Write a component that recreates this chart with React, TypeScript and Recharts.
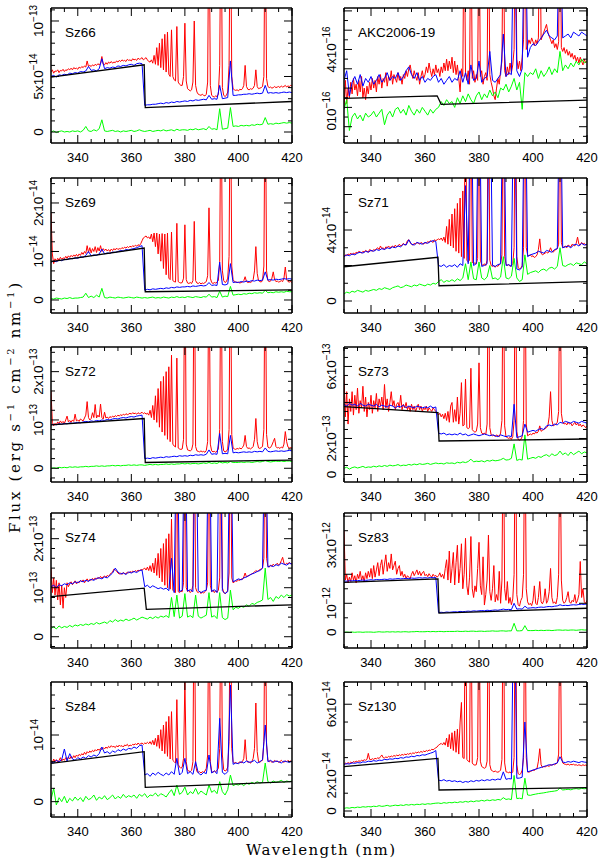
import React from 'react';
import { LineChart, Line, XAxis, YAxis } from 'recharts';

// wavelength sampling (nm)
const WL_FINE: number[] = Array.from({ length: 181 }, (_, i) => 330 + i * 0.5);
const WL_COARSE: number[] = Array.from({ length: 91 }, (_, i) => 330 + i);

const X_TICKS = [330, 335, 340, 345, 350, 355, 360, 365, 370, 375, 380, 385, 390, 395, 400, 405, 410, 415, 420];
const X_MAJOR = [340, 360, 380, 400, 420];
const ROW_TOPS = [8, 178, 347, 513, 682];

type YLabel = [number, string, string];
type Pt = [number, number];

// ---------------- Sz66 (1e-14) ----------------
const SZ66_RED = [
  5.4, 5.6, 5.3, 5.5, 5.45, 5.6, 5.35, 5.55, 5.5, 5.65,
  5.45, 5.6, 5.55, 5.7, 5.6, 5.75, 5.6, 5.8, 5.7, 5.75,
  5.65, 5.85, 5.75, 5.9, 5.8, 5.95, 5.85, 6.4, 5.9, 6.0,
  5.9, 6.05, 5.95, 6.1, 6.0, 6.15, 6.05, 6.2, 6.8, 6.1,
  6.05, 6.25, 6.1, 6.3, 6.2, 6.35, 6.2, 6.3, 6.25, 6.4,
  6.3, 6.45, 6.35, 6.5, 6.4, 6.45, 6.35, 6.55, 6.45, 6.5,
  6.4, 6.6, 6.5, 6.55, 6.45, 6.65, 6.55, 6.6, 6.7, 6.5,
  6.6, 6.7, 6.5, 6.35, 6.3, 6.5, 6.2, 6.9, 6.1, 7.6,
  6.0, 8.0, 5.8, 8.4, 5.6, 8.8, 5.4, 9.0, 5.2, 5.0,
  9.2, 5.0, 4.7, 4.6, 9.5, 4.5, 4.3, 4.2, 4.2, 5.0,
  9.8, 4.6, 3.9, 3.8, 3.7, 3.8, 4.5, 10.0, 4.2, 3.6,
  3.4, 3.35, 3.3, 3.4, 3.3, 3.25, 3.4, 4.5, 22, 4.2,
  3.3, 3.2, 3.15, 3.25, 3.2, 3.4, 6.0, 22, 4.0, 3.3,
  3.2, 3.3, 3.6, 6.0, 22, 5.0, 3.9, 3.8, 3.75, 3.8,
  3.7, 3.85, 3.8, 3.9, 4.2, 6.0, 4.1, 3.85, 3.8, 3.9,
  3.85, 3.95, 4.2, 5.6, 4.1, 3.9, 3.95, 4.0, 4.1, 5.0,
  22, 4.8, 4.1, 4.0, 4.05, 3.95, 4.0, 4.1, 4.0, 4.05,
  4.1, 4.0, 4.15, 4.05, 4.1, 4.2, 4.05, 4.15, 4.1, 4.2, 4.15,
];
const SZ66_BLUE = [
  5.0, 5.1, 4.95, 5.15, 5.1, 5.2, 5.15, 5.3, 5.25, 5.35,
  5.3, 5.45, 5.4, 5.5, 5.9, 5.55, 5.6, 5.5, 5.7, 6.6,
  5.7, 5.8, 5.75, 5.85, 5.8, 5.95, 5.9, 6.0, 5.95, 6.05,
  6.1, 6.0, 6.15, 6.2, 6.15, 2.4, 2.45, 2.45, 2.5, 2.5,
  2.55, 2.6, 2.55, 2.65, 2.6, 2.7, 2.65, 2.75, 2.7, 2.75,
  2.8, 2.75, 2.85, 2.8, 2.9, 2.85, 2.9, 2.95, 2.9, 3.3,
  2.95, 3.0, 2.95, 4.2, 3.0, 3.05, 3.1, 6.4, 3.3, 3.3,
  3.35, 3.35, 3.4, 3.4, 3.45, 3.4, 3.45, 3.5, 3.45, 3.5,
  4.2, 3.5, 3.55, 3.5, 3.55, 3.5, 3.55, 3.6, 3.55, 3.6, 3.55,
];
const SZ66_GREEN = [
  0.0, 0.1, -0.05, 0.05, 0.1, 0.0, 0.05, 0.0, 0.1, 0.05,
  0.1, 0.0, 0.15, 0.5, 0.1, 0.05, 0.2, 0.1, 0.3, 1.1,
  0.1, 0.05, 0.1, 0.15, 0.05, 0.1, 0.0, 0.1, 0.05, 0.1,
  0.15, 0.05, 0.1, 0.2, 0.1, 0.05, 0.1, 0.15, 0.05, 0.1,
  0.15, 0.1, 0.2, 0.1, 0.15, 0.2, 0.1, 0.25, 0.15, 0.2,
  0.2, 0.15, 0.25, 0.2, 0.3, 0.2, 0.25, 0.3, 0.2, 0.5,
  0.25, 0.3, 0.2, 2.1, 0.25, 0.3, 0.35, 2.2, 0.5, 0.55,
  0.5, 0.6, 0.55, 0.6, 0.55, 0.65, 0.6, 0.7, 0.65, 0.7,
  1.3, 0.7, 0.75, 0.7, 0.8, 0.75, 0.8, 0.85, 0.8, 0.85, 0.8,
];
const SZ66_BLACK: Pt[] = [[330, 4.95], [364.8, 6.05], [365.2, 2.2], [420, 2.75]];
const SZ66_Y_DOMAIN = [-0.99, 11.17];
const SZ66_Y_TICKS = [0, 1, 2, 3, 4, 5, 6, 7, 8, 9, 10, 11];
const SZ66_Y_MAJOR = [0, 5, 10];
const SZ66_Y_LABELS: YLabel[] = [[0, '0', ''], [5, '5x10', '−14'], [10, '10', '−13']];

// ---------------- AKC2006-19 (1e-16) ----------------
const AKC_RED = [
  1.0, 2.4, 1.2, 2.0, 1.5, 2.3, 1.7, 2.5, 1.9, 2.2,
  1.6, 2.4, 1.8, 2.6, 1.5, 2.0, 1.4, 2.1, 1.7, 2.3,
  1.9, 2.5, 2.0, 2.4, 1.8, 2.6, 2.2, 2.7, 2.0, 2.5,
  2.3, 2.8, 2.1, 2.6, 2.4, 2.9, 2.2, 2.7, 2.5, 2.3,
  2.8, 2.4, 2.6, 2.2, 2.7, 2.5, 2.9, 2.6, 3.0, 3.2,
  2.8, 2.5, 2.9, 2.6, 2.4, 2.8, 2.2, 2.6, 2.9, 2.5,
  2.7, 3.1, 2.8, 3.3, 2.9, 2.6, 3.0, 2.7, 3.2, 2.8,
  3.0, 2.6, 3.1, 2.8, 3.3, 2.9, 3.5, 2.9, 3.4, 3.0,
  3.6, 2.8, 3.4, 2.7, 3.2, 2.5, 1.8, 3.0, 2.6, 12,
  2.8, 2.4, 2.9, 2.2, 12, 2.5, 2.9, 2.3, 2.7, 2.4,
  12, 2.6, 2.9, 2.2, 2.6, 2.8, 2.4, 12, 2.7, 2.3,
  2.0, 1.6, 1.4, 2.0, 2.5, 2.2, 2.9, 3.4, 12, 2.9,
  2.6, 3.1, 2.7, 3.3, 2.8, 3.2, 4.0, 12, 3.5, 3.0,
  3.4, 2.9, 3.6, 4.5, 12, 4.0, 4.2, 4.5, 4.3, 4.6,
  4.4, 4.2, 4.5, 4.3, 4.6, 12, 4.5, 4.7, 4.9, 5.1,
  5.3, 4.9, 4.7, 4.5, 4.3, 4.5, 4.1, 4.3, 4.0, 4.4,
  12, 4.1, 3.9, 4.1, 3.8, 4.0, 3.7, 3.9, 3.6, 3.8,
  3.5, 3.7, 3.4, 3.6, 3.3, 3.6, 3.4, 3.2, 3.5, 3.3, 3.4,
];
const AKC_BLUE = [
  2.4, 2.9, 1.6, 2.3, 2.6, 2.2, 2.7, 2.1, 2.5, 2.3,
  2.6, 2.2, 2.4, 2.7, 2.3, 2.5, 2.8, 2.4, 2.6, 2.5,
  2.8, 2.4, 2.6, 2.9, 3.1, 2.7, 2.5, 2.8, 2.4, 2.6,
  2.3, 2.5, 2.4, 2.6, 2.7, 2.3, 2.5, 2.2, 2.4, 2.6,
  2.3, 2.5, 2.4, 2.9, 2.3, 2.8, 2.2, 3.2, 2.4, 2.5,
  3.4, 2.3, 2.5, 2.6, 3.9, 2.4, 2.3, 2.5, 2.7, 4.8,
  2.6, 2.8, 2.7, 12, 2.9, 2.6, 3.0, 12, 3.6, 4.1,
  4.3, 4.2, 4.4, 4.6, 4.8, 5.0, 4.7, 4.6, 4.5, 4.7,
  12, 4.6, 4.7, 4.8, 4.6, 4.9, 4.8, 4.7, 4.9, 4.8, 4.7,
];
const AKC_GREEN = [
  0.9, 1.4, -0.2, 0.5, 0.7, 0.4, 0.6, 0.3, 0.7, 0.5,
  0.6, 0.8, 0.5, 0.7, 0.9, 0.1, 0.6, 0.8, 0.5, 0.9,
  1.0, 0.7, 0.9, 0.6, 1.1, 0.8, 0.6, 0.9, 0.7, 1.0,
  0.8, 0.6, 0.9, 0.7, 0.9, 1.0, 1.3, 1.1, 1.4, 1.2,
  1.3, 1.0, 1.5, 1.2, 1.6, 1.3, 1.7, 1.4, 1.2, 1.6,
  1.8, 1.4, 1.7, 1.5, 1.9, 1.6, 1.8, 1.5, 2.0, 1.9,
  2.2, 1.8, 2.1, 2.5, 1.9, 2.3, 0.9, 2.8, 2.6, 2.8,
  2.7, 3.0, 2.5, 2.9, 2.6, 2.8, 3.1, 2.7, 3.0, 2.8,
  3.9, 2.9, 3.2, 3.0, 3.3, 3.1, 3.4, 3.2, 3.5, 3.3, 3.4,
];
const AKC_BLACK: Pt[] = [[330, 1.47], [364.5, 1.6], [366, 1.16], [420, 1.38]];
const AKC_Y_DOMAIN = [-0.845, 6.15];
const AKC_Y_TICKS = [-0.5, 0, 0.5, 1, 1.5, 2, 2.5, 3, 3.5, 4, 4.5, 5, 5.5, 6];
const AKC_Y_MAJOR = [0, 1, 2, 3, 4, 5, 6];
const AKC_Y_LABELS: YLabel[] = [[0, '0', ''], [1, '10', '−16'], [4, '4x10', '−16']];

// ---------------- Sz69 (1e-14) ----------------
const SZ69_RED = [
  1.8, 0.95, 0.75, 0.85, 0.8, 0.86, 0.82, 0.88, 0.84, 0.87,
  0.85, 0.9, 0.86, 0.91, 0.88, 0.92, 0.89, 0.93, 0.9, 0.94,
  0.9, 0.95, 0.92, 0.98, 0.94, 1.0, 0.96, 1.12, 0.98, 1.08,
  0.97, 1.06, 1.0, 1.1, 0.98, 1.08, 1.01, 1.12, 1.0, 1.06,
  1.02, 1.05, 1.01, 1.04, 1.0, 1.05, 1.02, 1.06, 1.03, 1.07,
  1.04, 1.06, 1.05, 1.08, 1.06, 1.09, 1.07, 1.1, 1.08, 1.11,
  1.09, 1.12, 1.1, 1.13, 1.11, 1.14, 1.12, 1.16, 1.22, 1.28,
  1.3, 1.32, 1.28, 1.3, 1.26, 1.36, 1.2, 1.38, 1.1, 1.38,
  0.95, 1.36, 0.8, 1.37, 0.65, 1.36, 0.52, 1.38, 0.45, 0.42,
  1.4, 0.4, 0.38, 0.37, 1.58, 0.38, 0.36, 0.35, 0.36, 0.45,
  1.55, 0.42, 0.35, 0.34, 0.36, 0.34, 0.4, 1.62, 0.4, 0.35,
  0.34, 0.36, 0.33, 0.35, 0.34, 0.36, 0.38, 0.5, 1.9, 0.45,
  0.36, 0.34, 0.36, 0.35, 0.37, 0.4, 0.8, 5, 0.6, 0.4,
  0.36, 0.38, 0.45, 0.9, 5, 0.7, 0.42, 0.38, 0.37, 0.36,
  0.37, 0.35, 0.36, 0.37, 0.4, 0.48, 0.38, 0.36, 0.37, 0.36,
  0.38, 0.42, 0.6, 1.1, 0.55, 0.4, 0.38, 0.37, 0.4, 0.7,
  5, 0.6, 0.4, 0.38, 0.39, 0.45, 0.58, 0.42, 0.38, 0.39,
  0.37, 0.38, 0.4, 0.38, 0.45, 0.68, 0.42, 0.38, 0.37, 0.38, 0.36,
];
const SZ69_BLUE = [
  0.78, 0.8, 0.79, 0.82, 0.81, 0.84, 0.83, 0.86, 0.85, 0.87,
  0.86, 0.89, 0.88, 0.92, 1.0, 0.91, 0.93, 0.92, 0.95, 1.05,
  0.95, 0.97, 0.96, 0.99, 0.98, 1.0, 1.02, 1.01, 1.04, 1.03,
  1.05, 1.06, 1.08, 1.1, 1.12, 0.2, 0.22, 0.21, 0.23, 0.22,
  0.23, 0.24, 0.23, 0.25, 0.24, 0.26, 0.25, 0.27, 0.26, 0.27,
  0.27, 0.28, 0.27, 0.29, 0.28, 0.29, 0.3, 0.29, 0.3, 0.36,
  0.3, 0.31, 0.3, 0.78, 0.32, 0.31, 0.33, 0.75, 0.36, 0.37,
  0.36, 0.38, 0.37, 0.39, 0.38, 0.4, 0.39, 0.41, 0.4, 0.41,
  0.58, 0.41, 0.42, 0.41, 0.43, 0.42, 0.43, 0.44, 0.43, 0.44, 0.43,
];
const SZ69_GREEN = [
  0.03, 0.02, 0.04, 0.03, 0.02, 0.04, 0.03, 0.05, 0.03, 0.04,
  0.04, 0.05, 0.06, 0.14, 0.05, 0.08, 0.05, 0.1, 0.06, 0.24,
  0.05, 0.04, 0.06, 0.05, 0.04, 0.06, 0.05, 0.04, 0.05, 0.06,
  0.05, 0.04, 0.06, 0.05, 0.04, 0.05, 0.04, 0.05, 0.06, 0.04,
  0.05, 0.04, 0.06, 0.05, 0.04, 0.06, 0.05, 0.07, 0.05, 0.06,
  0.05, 0.07, 0.06, 0.05, 0.07, 0.06, 0.05, 0.07, 0.06, 0.12,
  0.06, 0.07, 0.05, 0.18, 0.06, 0.08, 0.07, 0.28, 0.1, 0.11,
  0.12, 0.11, 0.13, 0.12, 0.14, 0.13, 0.15, 0.14, 0.15, 0.14,
  0.2, 0.15, 0.16, 0.15, 0.17, 0.16, 0.17, 0.16, 0.18, 0.17, 0.17,
];
const SZ69_BLACK: Pt[] = [[330, 0.79], [364.8, 1.07], [365.2, 0.17], [420, 0.21]];
const SZ69_Y_DOMAIN = [-0.268, 2.515];
const SZ69_Y_TICKS = [-0.2, 0, 0.2, 0.4, 0.6, 0.8, 1, 1.2, 1.4, 1.6, 1.8, 2, 2.2, 2.4];
const SZ69_Y_MAJOR = [0, 1, 2];
const SZ69_Y_LABELS: YLabel[] = [[0, '0', ''], [1, '10', '−14'], [2, '2x10', '−14']];

// ---------------- Sz71 (1e-14) ----------------
const SZ71_RED = [
  2.5, 2.6, 2.55, 2.65, 2.6, 2.7, 2.6, 2.7, 2.65, 2.75,
  2.7, 2.8, 2.75, 2.7, 2.8, 2.75, 2.85, 2.8, 2.75, 2.9,
  2.85, 2.8, 2.9, 2.85, 2.95, 3.0, 2.9, 3.1, 2.95, 3.0,
  2.9, 3.05, 3.0, 3.1, 3.0, 3.05, 3.1, 3.0, 3.15, 3.05,
  3.1, 3.2, 3.1, 3.15, 3.25, 3.15, 3.2, 3.4, 3.45, 3.3,
  3.2, 3.15, 3.25, 3.2, 3.3, 3.25, 3.2, 3.3, 3.25, 3.2,
  3.3, 3.25, 3.35, 3.3, 3.4, 3.35, 3.3, 3.45, 3.4, 3.45,
  3.5, 3.45, 3.55, 3.4, 3.6, 3.3, 4.2, 3.2, 4.6, 3.1,
  4.9, 3.0, 5.2, 2.8, 5.5, 2.7, 5.8, 2.5, 6.2, 2.4,
  14, 2.3, 2.2, 2.3, 14, 2.2, 2.1, 2.15, 2.1, 2.4,
  14, 2.3, 2.05, 2.0, 2.1, 2.0, 2.3, 14, 2.3, 2.0,
  1.95, 2.0, 1.9, 2.0, 1.95, 2.05, 2.1, 2.6, 14, 2.5,
  2.1, 2.0, 2.05, 1.95, 2.0, 2.1, 3.0, 14, 2.5, 1.9,
  1.8, 1.85, 2.0, 3.0, 14, 3.0, 2.6, 2.55, 2.6, 2.5,
  2.55, 2.45, 2.5, 2.6, 2.9, 3.5, 2.7, 2.6, 2.65, 2.7,
  2.75, 2.7, 2.8, 3.0, 2.8, 2.75, 2.85, 2.9, 2.95, 3.2,
  14, 3.3, 3.0, 3.05, 3.1, 3.0, 3.15, 3.1, 3.05, 3.2,
  3.15, 3.1, 3.25, 3.6, 3.2, 3.15, 3.3, 3.2, 3.25, 3.15, 3.2,
];
const SZ71_BLUE = [
  2.5, 2.6, 2.55, 2.65, 2.6, 2.7, 2.75, 2.7, 2.8, 2.75,
  2.85, 2.8, 2.9, 2.85, 2.95, 2.9, 3.0, 2.95, 3.05, 3.0,
  3.1, 3.05, 3.2, 3.15, 3.45, 3.2, 3.15, 3.3, 3.25, 3.2,
  3.3, 3.25, 3.35, 3.4, 3.35, 2.0, 1.95, 2.05, 1.9, 2.0,
  1.95, 2.05, 1.9, 2.1, 2.0, 6.5, 2.1, 14, 2.0, 2.1,
  14, 1.95, 2.0, 2.1, 14, 2.0, 1.95, 2.05, 2.1, 14,
  2.0, 2.05, 1.95, 14, 1.8, 1.75, 1.9, 14, 2.5, 2.6,
  2.65, 2.7, 2.8, 2.75, 2.7, 2.85, 2.8, 2.75, 2.9, 2.95,
  14, 3.0, 3.05, 3.1, 3.0, 3.15, 3.2, 3.1, 3.25, 3.15, 3.2,
];
const SZ71_GREEN = [
  0.4, 0.5, 0.45, 0.55, 0.5, 0.6, 0.55, 0.5, 0.6, 0.55,
  0.6, 0.65, 0.6, 0.7, 0.65, 0.75, 0.7, 0.65, 0.75, 0.8,
  0.85, 0.75, 0.8, 0.9, 0.85, 0.8, 0.9, 0.85, 0.95, 0.9,
  0.85, 0.95, 0.9, 1.0, 0.95, 1.1, 1.2, 1.05, 1.15, 1.1,
  1.2, 1.1, 1.25, 1.15, 1.3, 2.1, 1.2, 2.2, 1.25, 1.2,
  2.2, 1.3, 1.2, 1.35, 2.0, 1.25, 1.3, 1.2, 1.35, 2.5,
  1.3, 1.25, 1.4, 2.4, 1.3, 1.1, 1.2, 2.6, 1.5, 1.6,
  1.65, 1.7, 1.6, 1.75, 1.8, 1.7, 1.85, 1.9, 1.8, 1.95,
  3.0, 2.0, 1.95, 2.05, 2.1, 2.0, 2.15, 2.1, 2.05, 2.2, 2.1,
];
const SZ71_BLACK: Pt[] = [[330, 1.93], [364.8, 2.46], [365.2, 0.86], [420, 1.09]];
const SZ71_Y_DOMAIN = [-0.676, 6.93];
const SZ71_Y_TICKS = [0, 1, 2, 3, 4, 5, 6];
const SZ71_Y_MAJOR = [0, 2, 4, 6];
const SZ71_Y_LABELS: YLabel[] = [[0, '0', ''], [4, '4x10', '−14']];

// ---------------- Sz72 (1e-13) ----------------
const SZ72_RED = [
  1.6, 0.95, 0.88, 0.93, 0.9, 0.96, 0.92, 0.98, 0.94, 0.97,
  0.93, 1.0, 1.08, 0.96, 0.99, 0.95, 1.0, 0.97, 1.12, 0.98,
  1.0, 0.97, 1.02, 1.0, 0.98, 1.04, 1.1, 1.38, 1.05, 1.0,
  1.03, 1.15, 1.05, 1.32, 1.04, 1.1, 1.06, 1.33, 1.05, 1.02,
  1.16, 1.04, 1.06, 1.03, 1.07, 1.05, 1.08, 1.06, 1.09, 1.07,
  1.1, 1.08, 1.11, 1.09, 1.12, 1.1, 1.13, 1.11, 1.12, 1.14,
  1.12, 1.15, 1.13, 1.14, 1.12, 1.15, 1.13, 1.14, 1.16, 1.13,
  1.15, 1.12, 1.14, 1.1, 1.2, 1.05, 1.3, 1.0, 1.5, 0.95,
  1.65, 0.85, 1.8, 0.75, 1.9, 0.68, 2.0, 0.6, 2.1, 0.55,
  2.34, 0.5, 0.46, 0.44, 2.28, 0.42, 0.4, 0.39, 0.4, 0.6,
  5, 0.5, 0.38, 0.37, 0.36, 0.38, 0.5, 5, 0.45, 0.36,
  0.35, 0.34, 0.36, 0.34, 0.35, 0.33, 0.37, 0.55, 5, 0.5,
  0.36, 0.34, 0.35, 0.33, 0.36, 0.4, 0.8, 5, 0.55, 0.36,
  0.34, 0.35, 0.4, 0.8, 5, 0.7, 0.42, 0.4, 0.39, 0.41,
  0.4, 0.42, 0.4, 0.43, 0.48, 0.68, 0.45, 0.41, 0.42, 0.4,
  0.42, 0.45, 0.6, 1.03, 0.55, 0.42, 0.41, 0.43, 0.45, 0.8,
  5, 0.7, 0.44, 0.42, 0.43, 0.48, 0.55, 0.62, 0.45, 0.42,
  0.43, 0.41, 0.44, 0.42, 0.5, 0.76, 0.55, 0.44, 0.42, 0.43, 0.42,
];
const SZ72_BLUE = [
  0.9, 0.91, 0.9, 0.92, 0.91, 0.93, 0.92, 0.94, 0.93, 0.94,
  0.95, 0.94, 0.96, 0.97, 0.96, 0.98, 0.97, 0.99, 0.98, 1.0,
  0.99, 1.01, 1.0, 1.02, 1.03, 1.02, 1.04, 1.05, 1.04, 1.06,
  1.07, 1.06, 1.08, 1.09, 1.1, 0.2, 0.21, 0.2, 0.22, 0.21,
  0.22, 0.23, 0.22, 0.24, 0.23, 0.24, 0.25, 0.24, 0.26, 0.25,
  0.26, 0.25, 0.27, 0.26, 0.28, 0.27, 0.28, 0.27, 0.29, 0.38,
  0.29, 0.3, 0.29, 0.72, 0.3, 0.31, 0.3, 0.68, 0.32, 0.33,
  0.32, 0.33, 0.34, 0.33, 0.34, 0.33, 0.35, 0.34, 0.35, 0.34,
  0.42, 0.35, 0.34, 0.35, 0.36, 0.35, 0.36, 0.35, 0.36, 0.37, 0.36,
];
const SZ72_GREEN = [
  0.0, 0.01, 0.0, 0.02, 0.01, 0.02, 0.01, 0.03, 0.02, 0.03,
  0.02, 0.03, 0.03, 0.04, 0.03, 0.04, 0.04, 0.05, 0.04, 0.05,
  0.04, 0.05, 0.05, 0.06, 0.05, 0.06, 0.05, 0.06, 0.06, 0.07,
  0.06, 0.07, 0.06, 0.07, 0.07, 0.06, 0.07, 0.08, 0.07, 0.08,
  0.07, 0.08, 0.08, 0.09, 0.08, 0.09, 0.08, 0.09, 0.09, 0.1,
  0.09, 0.1, 0.09, 0.1, 0.1, 0.09, 0.1, 0.11, 0.1, 0.12,
  0.1, 0.11, 0.1, 0.13, 0.11, 0.12, 0.11, 0.14, 0.12, 0.12,
  0.12, 0.13, 0.12, 0.13, 0.13, 0.12, 0.13, 0.14, 0.13, 0.14,
  0.16, 0.14, 0.13, 0.14, 0.15, 0.14, 0.15, 0.14, 0.15, 0.15, 0.14,
];
const SZ72_BLACK: Pt[] = [[330, 0.9], [364.8, 1.03], [365.2, 0.12], [420, 0.17]];
const SZ72_Y_DOMAIN = [-0.284, 2.51];
const SZ72_Y_TICKS = [-0.2, 0, 0.2, 0.4, 0.6, 0.8, 1, 1.2, 1.4, 1.6, 1.8, 2, 2.2, 2.4];
const SZ72_Y_MAJOR = [0, 1, 2];
const SZ72_Y_LABELS: YLabel[] = [[0, '0', ''], [1, '10', '−13'], [2, '2x10', '−13']];

// ---------------- Sz73 (1e-13) ----------------
const SZ73_RED = [
  5.5, 3.2, 4.6, 2.8, 4.2, 3.5, 4.6, 3.3, 4.4, 3.6,
  4.8, 3.4, 4.1, 3.7, 4.9, 3.5, 4.3, 3.2, 4.0, 3.6,
  4.4, 3.4, 4.1, 3.7, 4.5, 3.5, 4.2, 3.8, 4.3, 3.6,
  5.0, 3.7, 4.2, 3.5, 4.0, 4.6, 3.8, 4.1, 3.6, 3.9,
  4.0, 3.7, 4.4, 3.6, 3.9, 3.7, 4.0, 3.6, 3.8, 3.5,
  3.9, 3.6, 3.8, 3.5, 3.7, 3.9, 3.6, 3.8, 3.5, 3.7,
  3.6, 3.8, 3.5, 3.7, 3.6, 3.5, 3.7, 3.6, 3.5, 3.4,
  3.3, 3.4, 3.2, 3.35, 3.1, 3.4, 3.0, 3.5, 2.9, 3.8,
  4.0, 2.9, 3.6, 2.95, 4.3, 2.8, 3.4, 5.1, 2.7, 2.75,
  5.3, 2.6, 2.55, 2.6, 5.9, 2.5, 2.4, 2.35, 2.4, 2.8,
  6.2, 2.6, 2.3, 2.25, 2.3, 2.2, 2.8, 14, 2.6, 2.2,
  2.15, 2.2, 2.1, 2.2, 2.15, 2.1, 2.3, 3.0, 14, 2.7,
  2.1, 2.05, 2.0, 2.05, 1.95, 2.1, 3.0, 14, 2.4, 1.95,
  1.9, 1.95, 2.1, 3.0, 14, 2.8, 2.15, 2.2, 2.25, 2.2,
  2.3, 2.25, 2.35, 2.3, 2.4, 2.7, 2.4, 2.45, 2.5, 2.55,
  2.6, 2.7, 3.2, 4.6, 3.0, 2.7, 2.75, 2.8, 2.9, 3.5,
  14, 3.4, 2.9, 2.8, 2.85, 2.75, 2.9, 2.8, 2.85, 2.7,
  2.8, 2.9, 2.75, 2.85, 2.7, 2.8, 2.65, 2.75, 2.7, 2.6, 2.7,
];
const SZ73_BLUE = [
  3.9, 3.8, 3.95, 3.85, 3.9, 3.8, 3.95, 3.85, 3.8, 3.9,
  3.85, 3.8, 3.9, 3.75, 3.85, 3.8, 3.75, 3.85, 3.8, 3.7,
  3.8, 3.75, 3.85, 3.7, 3.8, 3.75, 3.7, 3.8, 3.75, 3.7,
  3.75, 3.7, 3.8, 3.7, 3.75, 2.3, 2.25, 2.3, 2.2, 2.25,
  2.2, 2.25, 2.2, 2.3, 2.2, 2.25, 2.15, 2.2, 2.25, 2.2,
  2.15, 2.2, 2.25, 2.2, 2.15, 2.2, 2.15, 2.1, 2.2, 2.15,
  2.1, 2.15, 2.1, 3.9, 2.05, 2.1, 2.15, 2.8, 2.35, 2.4,
  2.45, 2.4, 2.5, 2.55, 2.5, 2.7, 2.75, 2.7, 2.8, 2.75,
  2.9, 2.85, 2.95, 2.9, 2.85, 2.95, 2.9, 2.85, 2.95, 2.9, 2.85,
];
const SZ73_GREEN = [
  0.35, 0.4, 0.3, 0.38, 0.42, 0.36, 0.4, 0.45, 0.38, 0.42,
  0.4, 0.46, 0.42, 0.48, 0.44, 0.5, 0.45, 0.52, 0.48, 0.5,
  0.55, 0.48, 0.52, 0.5, 0.56, 0.52, 0.58, 0.54, 0.6, 0.56,
  0.58, 0.62, 0.56, 0.6, 0.64, 0.6, 0.62, 0.58, 0.65, 0.62,
  0.64, 0.6, 0.68, 0.64, 0.7, 0.66, 0.72, 0.85, 0.7, 0.74,
  0.72, 0.76, 0.7, 0.78, 0.74, 0.8, 0.76, 0.78, 0.82, 0.9,
  0.8, 0.82, 0.9, 1.7, 0.78, 0.84, 0.8, 2.2, 0.85, 0.9,
  0.95, 0.9, 1.0, 0.95, 1.05, 1.1, 1.0, 1.15, 1.05, 1.1,
  1.3, 1.1, 1.2, 1.05, 1.25, 1.1, 1.2, 1.3, 1.15, 1.25, 1.2,
];
const SZ73_BLACK: Pt[] = [[330, 3.77], [364.8, 3.43], [365.2, 1.86], [420, 1.97]];
const SZ73_Y_DOMAIN = [-0.417, 7.08];
const SZ73_Y_TICKS = [0, 0.5, 1, 1.5, 2, 2.5, 3, 3.5, 4, 4.5, 5, 5.5, 6, 6.5, 7];
const SZ73_Y_MAJOR = [0, 2, 4, 6];
const SZ73_Y_LABELS: YLabel[] = [[0, '0', ''], [2, '2x10', '−13'], [6, '6x10', '−13']];

// ---------------- Sz74 (1e-13) ----------------
const SZ74_RED = [
  1.4, 0.9, 1.2, 0.85, 1.15, 0.75, 1.1, 0.65, 1.05, 0.58,
  1.0, 0.8, 1.1, 1.02, 1.08, 1.12, 1.06, 1.1, 1.14, 1.08,
  1.12, 1.1, 1.15, 1.12, 1.16, 1.1, 1.14, 1.18, 1.13, 1.17,
  1.15, 1.19, 1.16, 1.2, 1.17, 1.21, 1.19, 1.23, 1.2, 1.22,
  1.24, 1.21, 1.25, 1.23, 1.27, 1.3, 1.32, 1.38, 1.36, 1.34,
  1.3, 1.28, 1.3, 1.27, 1.31, 1.29, 1.28, 1.32, 1.3, 1.33,
  1.31, 1.34, 1.32, 1.35, 1.33, 1.36, 1.34, 1.37, 1.36, 1.38,
  1.4, 1.36, 1.42, 1.35, 1.45, 1.33, 1.5, 1.3, 1.6, 1.25,
  1.7, 1.2, 1.8, 1.12, 1.9, 1.05, 2.0, 1.0, 2.1, 0.97,
  2.4, 0.95, 0.92, 0.9, 5, 0.92, 0.9, 0.93, 0.92, 1.1,
  5, 1.0, 0.92, 0.95, 0.9, 0.93, 1.05, 5, 1.0, 0.92,
  0.9, 0.93, 0.88, 0.91, 0.89, 0.92, 0.95, 1.1, 5, 1.05,
  0.92, 0.95, 0.9, 0.94, 0.91, 0.95, 1.2, 5, 1.0, 0.9,
  0.88, 0.9, 0.95, 1.3, 5, 1.2, 1.1, 1.12, 1.14, 1.13,
  1.16, 1.15, 1.18, 1.17, 1.22, 1.3, 1.22, 1.24, 1.25, 1.27,
  1.28, 1.3, 1.32, 1.35, 1.33, 1.35, 1.37, 1.38, 1.4, 1.6,
  5, 1.6, 1.44, 1.42, 1.46, 1.44, 1.48, 1.45, 1.47, 1.5,
  1.46, 1.49, 1.55, 1.62, 1.5, 1.47, 1.5, 1.48, 1.52, 1.49, 1.5,
];
const SZ74_BLUE = [
  1.02, 1.05, 1.0, 1.06, 1.04, 1.08, 1.06, 1.1, 1.08, 1.12,
  1.1, 1.14, 1.12, 1.15, 1.13, 1.17, 1.15, 1.19, 1.2, 1.18,
  1.22, 1.2, 1.25, 1.3, 1.4, 1.32, 1.28, 1.3, 1.27, 1.32,
  1.3, 1.33, 1.31, 1.35, 1.36, 1.02, 1.05, 1.0, 1.04, 1.01,
  0.98, 1.0, 0.97, 0.99, 0.94, 1.6, 0.9, 5, 0.92, 0.95,
  5, 0.93, 0.96, 0.92, 5, 0.94, 0.9, 0.93, 0.95, 5,
  0.92, 0.96, 0.9, 5, 0.94, 0.88, 0.92, 5, 1.12, 1.15,
  1.18, 1.16, 1.2, 1.22, 1.25, 1.28, 1.3, 1.33, 1.35, 1.4,
  5, 1.42, 1.45, 1.43, 1.47, 1.45, 1.5, 1.48, 1.46, 1.5, 1.48,
];
const SZ74_GREEN = [
  0.17, 0.2, 0.16, 0.22, 0.18, 0.21, 0.19, 0.23, 0.2, 0.24,
  0.22, 0.25, 0.23, 0.26, 0.24, 0.27, 0.25, 0.29, 0.26, 0.28,
  0.3, 0.27, 0.33, 0.3, 0.35, 0.31, 0.34, 0.32, 0.36, 0.33,
  0.35, 0.38, 0.34, 0.37, 0.4, 0.38, 0.36, 0.4, 0.37, 0.41,
  0.38, 0.42, 0.4, 0.43, 0.39, 0.8, 0.41, 0.85, 0.38, 0.42,
  0.88, 0.4, 0.43, 0.39, 0.85, 0.42, 0.38, 0.41, 0.44, 0.9,
  0.4, 0.43, 0.37, 0.9, 0.39, 0.35, 0.38, 0.95, 0.55, 0.6,
  0.58, 0.62, 0.6, 0.65, 0.62, 0.68, 0.66, 0.7, 0.72, 0.75,
  1.4, 0.76, 0.8, 0.72, 0.82, 0.78, 0.85, 0.8, 0.86, 0.83, 0.85,
];
const SZ74_BLACK: Pt[] = [[330, 0.82], [364.8, 0.99], [365.6, 0.56], [420, 0.65]];
const SZ74_Y_DOMAIN = [-0.23, 2.524];
const SZ74_Y_TICKS = [-0.2, 0, 0.2, 0.4, 0.6, 0.8, 1, 1.2, 1.4, 1.6, 1.8, 2, 2.2, 2.4];
const SZ74_Y_MAJOR = [0, 1, 2];
const SZ74_Y_LABELS: YLabel[] = [[0, '0', ''], [1, '10', '−13'], [2, '2x10', '−13']];

// ---------------- Sz83 (1e-12) ----------------
const SZ83_RED = [
  3.5, 1.8, 2.0, 1.7, 1.9, 1.75, 2.05, 1.8, 1.95, 1.7,
  2.0, 1.85, 2.1, 1.8, 1.95, 1.75, 2.05, 1.85, 2.1, 1.9,
  2.2, 1.85, 2.3, 1.9, 2.15, 2.4, 1.95, 2.3, 2.5, 2.0,
  2.35, 2.67, 2.1, 2.4, 2.2, 2.7, 2.15, 2.3, 2.45, 2.0,
  2.2, 2.3, 1.95, 2.1, 1.9, 2.0, 1.85, 1.95, 1.9, 1.85,
  2.0, 2.1, 1.95, 2.05, 2.15, 1.98, 2.1, 1.95, 2.05, 2.1,
  1.95, 2.0, 1.92, 2.02, 1.95, 1.9, 2.0, 1.93, 1.96, 1.9,
  1.95, 2.05, 1.9, 2.0, 1.85, 2.2, 2.5, 1.8, 2.8, 1.7,
  2.2, 2.75, 1.63, 2.4, 3.0, 1.7, 2.2, 3.05, 1.5, 2.0,
  3.24, 1.6, 1.29, 1.9, 3.3, 1.5, 1.2, 1.6, 1.4, 2.2,
  3.1, 1.6, 1.3, 2.6, 0.94, 1.3, 1.8, 3.35, 1.4, 1.1,
  1.5, 2.3, 1.05, 1.3, 1.1, 2.1, 1.0, 1.8, 8, 1.5,
  1.1, 1.75, 1.0, 1.2, 0.95, 1.15, 2.0, 8, 1.3, 0.95,
  0.9, 1.1, 1.2, 2.0, 8, 1.5, 1.05, 0.95, 1.0, 0.92,
  1.1, 1.6, 1.0, 0.95, 1.2, 1.75, 1.05, 0.98, 1.1, 1.5,
  1.0, 1.1, 1.4, 2.2, 1.2, 1.0, 1.05, 0.98, 1.2, 2.0,
  8, 1.8, 1.1, 1.0, 1.05, 1.2, 1.4, 1.05, 1.0, 1.1,
  1.05, 1.3, 1.0, 1.1, 1.3, 2.44, 1.2, 1.5, 1.05, 1.0, 1.1,
];
const SZ83_BLUE = [
  1.77, 1.76, 1.78, 1.77, 1.79, 1.78, 1.79, 1.8, 1.79, 1.8,
  1.81, 1.8, 1.82, 1.81, 1.82, 1.83, 1.82, 1.84, 1.83, 1.84,
  1.85, 1.84, 1.85, 1.86, 1.85, 1.87, 1.86, 1.87, 1.88, 1.87,
  1.88, 1.87, 1.89, 1.88, 1.89, 0.68, 0.69, 0.68, 0.7, 0.69,
  0.7, 0.71, 0.7, 0.72, 0.71, 0.72, 0.73, 0.72, 0.74, 0.73,
  0.74, 0.75, 0.74, 0.76, 0.75, 0.76, 0.77, 0.76, 0.78, 0.8,
  0.78, 0.79, 0.78, 1.0, 0.8, 0.81, 0.8, 0.9, 0.83, 0.84,
  0.85, 0.84, 0.86, 0.87, 0.86, 0.88, 0.89, 0.88, 0.9, 0.91,
  0.95, 0.92, 0.93, 0.92, 0.94, 0.95, 0.94, 0.96, 0.97, 0.96, 0.98,
];
const SZ83_GREEN = [
  0.0, 0.01, 0.0, 0.01, 0.0, 0.01, 0.01, 0.0, 0.01, 0.01,
  0.01, 0.0, 0.01, 0.02, 0.01, 0.01, 0.02, 0.01, 0.02, 0.01,
  0.02, 0.01, 0.02, 0.02, 0.01, 0.02, 0.02, 0.03, 0.02, 0.02,
  0.02, 0.03, 0.02, 0.03, 0.02, 0.03, 0.03, 0.02, 0.03, 0.03,
  0.03, 0.03, 0.04, 0.03, 0.03, 0.04, 0.03, 0.04, 0.04, 0.03,
  0.04, 0.04, 0.03, 0.04, 0.04, 0.05, 0.04, 0.04, 0.05, 0.05,
  0.04, 0.05, 0.05, 0.31, 0.05, 0.05, 0.06, 0.23, 0.06, 0.06,
  0.06, 0.07, 0.06, 0.07, 0.06, 0.07, 0.07, 0.06, 0.07, 0.08,
  0.08, 0.07, 0.08, 0.07, 0.08, 0.08, 0.07, 0.08, 0.09, 0.08, 0.08,
];
const SZ83_BLACK: Pt[] = [[330, 1.72], [364.8, 1.84], [365.2, 0.66], [420, 0.83]];
const SZ83_Y_DOMAIN = [-0.54, 4.11];
const SZ83_Y_TICKS = [-0.5, 0, 0.5, 1, 1.5, 2, 2.5, 3, 3.5, 4];
const SZ83_Y_MAJOR = [0, 1, 2, 3, 4];
const SZ83_Y_LABELS: YLabel[] = [[0, '0', ''], [1, '10', '−12'], [3, '3x10', '−12']];

// ---------------- Sz84 (1e-14) ----------------
const SZ84_RED = [
  0.62, 0.58, 0.64, 0.6, 0.63, 0.59, 0.62, 0.66, 0.61, 0.64,
  0.62, 0.66, 0.63, 0.67, 0.64, 0.68, 0.65, 0.69, 0.66, 0.7,
  0.68, 0.71, 0.69, 0.72, 0.7, 0.74, 0.71, 0.75, 0.73, 0.76,
  0.74, 0.77, 0.75, 0.78, 0.76, 0.79, 0.77, 0.8, 0.78, 0.81,
  0.79, 0.82, 0.8, 0.83, 0.81, 0.84, 0.82, 0.83, 0.81, 0.84,
  0.82, 0.85, 0.83, 0.84, 0.82, 0.85, 0.84, 0.86, 0.83, 0.85,
  0.84, 0.86, 0.85, 0.87, 0.85, 0.88, 0.86, 0.87, 0.88, 0.86,
  0.88, 0.87, 0.89, 0.87, 0.9, 0.86, 0.92, 0.85, 0.95, 0.83,
  1.0, 0.8, 1.08, 0.76, 1.15, 0.72, 1.2, 0.68, 1.28, 0.64,
  1.35, 0.62, 0.6, 0.58, 1.53, 0.56, 0.52, 0.5, 0.52, 0.65,
  1.8, 0.6, 0.47, 0.46, 0.45, 0.47, 0.6, 3.6, 0.55, 0.45,
  0.44, 0.45, 0.43, 0.45, 0.44, 0.46, 0.5, 0.7, 3.6, 0.6,
  0.45, 0.44, 0.46, 0.45, 0.47, 0.5, 0.8, 3.6, 0.7, 0.48,
  0.46, 0.47, 0.52, 0.9, 3.6, 0.8, 0.6, 0.58, 0.59, 0.57,
  0.58, 0.6, 0.58, 0.6, 0.65, 0.93, 0.63, 0.59, 0.6, 0.58,
  0.6, 0.65, 0.8, 1.48, 0.75, 0.6, 0.59, 0.61, 0.62, 0.9,
  3.6, 0.85, 0.62, 0.6, 0.61, 0.59, 0.6, 0.62, 0.6, 0.61,
  0.59, 0.6, 0.62, 0.6, 0.59, 0.61, 0.6, 0.62, 0.6, 0.61, 0.6,
];
const SZ84_BLUE = [
  0.6, 0.58, 0.62, 0.6, 0.63, 0.79, 0.61, 0.72, 0.64, 0.62,
  0.66, 0.64, 0.67, 0.65, 0.69, 0.67, 0.7, 0.68, 0.72, 0.82,
  0.73, 0.75, 0.72, 0.76, 0.74, 0.78, 0.76, 0.79, 0.77, 0.8,
  0.79, 0.82, 0.8, 0.84, 0.85, 0.4, 0.42, 0.38, 0.43, 0.4,
  0.44, 0.41, 0.39, 0.43, 0.4, 0.45, 0.41, 0.65, 0.4, 0.44,
  0.65, 0.42, 0.45, 0.41, 0.6, 0.43, 0.4, 0.44, 0.42, 0.7,
  0.43, 0.46, 0.42, 1.25, 0.44, 0.41, 0.45, 1.75, 0.56, 0.58,
  0.57, 0.6, 0.58, 0.61, 0.59, 0.6, 0.62, 0.58, 0.6, 0.63,
  1.15, 0.6, 0.62, 0.59, 0.61, 0.6, 0.58, 0.61, 0.6, 0.59, 0.61,
];
const SZ84_GREEN = [
  0.03, 0.2, -0.05, 0.06, 0.0, 0.08, -0.02, 0.05, 0.01, 0.07,
  0.02, 0.06, 0.0, 0.08, 0.03, 0.05, 0.1, 0.02, 0.07, 0.04,
  0.09, 0.03, 0.06, 0.1, 0.04, 0.08, 0.05, 0.11, 0.06, 0.09,
  0.07, 0.1, 0.05, 0.11, 0.08, 0.12, 0.06, 0.1, 0.09, 0.13,
  0.08, 0.12, 0.1, 0.07, 0.13, 0.18, 0.09, 0.25, 0.11, 0.14,
  0.22, 0.1, 0.15, 0.12, 0.2, 0.11, 0.16, 0.13, 0.1, 0.25,
  0.14, 0.17, 0.12, 0.3, 0.15, 0.1, 0.18, 0.4, 0.24, 0.26,
  0.25, 0.27, 0.24, 0.28, 0.26, 0.29, 0.27, 0.3, 0.28, 0.29,
  0.58, 0.3, 0.28, 0.31, 0.29, 0.3, 0.32, 0.29, 0.31, 0.3, 0.31,
];
const SZ84_BLACK: Pt[] = [[330, 0.575], [364.8, 0.75], [365.2, 0.215], [420, 0.3]];
const SZ84_Y_DOMAIN = [-0.23, 1.795];
const SZ84_Y_TICKS = [-0.2, 0, 0.2, 0.4, 0.6, 0.8, 1, 1.2, 1.4, 1.6];
const SZ84_Y_MAJOR = [0, 1];
const SZ84_Y_LABELS: YLabel[] = [[0, '0', ''], [1, '10', '−14']];

// ---------------- Sz130 (1e-14) ----------------
const SZ130_RED = [
  2.6, 2.7, 2.65, 2.72, 2.68, 2.75, 2.7, 2.78, 2.74, 2.8,
  2.77, 2.82, 2.79, 2.85, 2.82, 2.88, 2.85, 2.9, 3.24, 2.9,
  2.88, 2.94, 2.9, 2.96, 2.93, 2.99, 2.95, 3.05, 3.15, 3.0,
  2.98, 3.04, 3.0, 3.07, 3.03, 3.09, 3.05, 3.12, 3.08, 3.14,
  3.1, 3.16, 3.12, 3.18, 3.14, 3.2, 3.16, 3.22, 3.18, 3.25,
  3.2, 3.27, 3.23, 3.3, 3.26, 3.32, 3.28, 3.35, 3.3, 3.37,
  3.33, 3.4, 3.36, 3.43, 3.4, 3.47, 3.44, 3.5, 3.55, 3.6,
  3.7, 3.75, 3.8, 3.72, 3.85, 3.7, 4.1, 3.6, 4.3, 3.5,
  4.4, 3.4, 4.5, 3.3, 4.6, 3.2, 5.0, 6.1, 3.0, 2.95,
  14, 2.9, 2.8, 2.75, 14, 2.7, 2.6, 2.58, 2.6, 3.0,
  14, 2.8, 2.5, 2.45, 2.4, 2.45, 2.8, 14, 2.6, 2.3,
  2.25, 2.2, 2.25, 2.2, 2.18, 2.22, 2.3, 2.9, 14, 2.7,
  2.2, 2.18, 2.15, 2.2, 2.12, 2.2, 3.0, 14, 2.6, 2.1,
  2.05, 2.1, 2.3, 3.0, 14, 3.0, 2.2, 2.18, 2.22, 2.25,
  2.3, 2.28, 2.35, 2.4, 2.8, 3.5, 2.6, 2.45, 2.5, 2.48,
  2.52, 2.55, 2.5, 2.6, 2.58, 2.62, 2.6, 2.65, 2.7, 3.2,
  14, 3.1, 2.7, 2.65, 2.62, 2.6, 2.64, 2.58, 2.62, 2.6,
  2.63, 2.58, 2.6, 2.56, 2.6, 2.57, 2.55, 2.6, 2.56, 2.58, 2.55,
];
const SZ130_BLUE = [
  2.62, 2.66, 2.64, 2.7, 2.68, 2.72, 2.7, 2.76, 2.74, 2.8,
  2.78, 2.83, 2.8, 2.86, 2.84, 2.9, 2.88, 2.93, 2.91, 2.96,
  2.94, 3.0, 2.97, 3.04, 3.02, 3.08, 3.05, 3.12, 3.1, 3.16,
  3.14, 3.2, 3.25, 3.3, 3.4, 1.74, 1.7, 1.76, 1.68, 1.72,
  1.66, 1.7, 1.64, 1.68, 1.6, 1.66, 1.62, 1.7, 1.65, 1.72,
  1.68, 1.75, 1.7, 1.76, 1.72, 1.78, 1.74, 1.8, 1.76, 2.2,
  1.78, 1.82, 1.8, 14, 1.84, 1.85, 1.9, 5.0, 2.2, 2.25,
  2.3, 2.35, 2.4, 2.45, 2.5, 2.55, 2.6, 2.58, 2.65, 2.7,
  3.05, 2.75, 2.72, 2.78, 2.74, 2.8, 2.76, 2.72, 2.78, 2.75, 2.73,
];
const SZ130_GREEN = [
  0.15, 0.18, 0.16, 0.2, 0.18, 0.22, 0.2, 0.24, 0.22, 0.25,
  0.23, 0.27, 0.25, 0.3, 0.26, 0.28, 0.32, 0.27, 0.3, 0.33,
  0.3, 0.34, 0.31, 0.36, 0.33, 0.37, 0.34, 0.38, 0.36, 0.4,
  0.37, 0.41, 0.39, 0.42, 0.44, 0.45, 0.42, 0.47, 0.44, 0.48,
  0.46, 0.5, 0.47, 0.52, 0.49, 0.54, 0.5, 0.56, 0.52, 0.57,
  0.55, 0.6, 0.56, 0.62, 0.58, 0.63, 0.6, 0.65, 0.62, 0.75,
  0.65, 0.68, 0.64, 2.0, 0.7, 0.72, 0.68, 1.84, 0.9, 0.88,
  0.92, 0.95, 0.98, 1.0, 1.02, 1.05, 1.08, 1.1, 1.12, 1.15,
  1.3, 1.18, 1.2, 1.22, 1.19, 1.24, 1.26, 1.23, 1.27, 1.25, 1.27,
];
const SZ130_BLACK: Pt[] = [[330, 2.49], [364.8, 2.96], [365.2, 1.18], [420, 1.31]];
const SZ130_Y_DOMAIN = [-0.337, 7.25];
const SZ130_Y_TICKS = [0, 1, 2, 3, 4, 5, 6, 7];
const SZ130_Y_MAJOR = [0, 2, 4, 6];
const SZ130_Y_LABELS: YLabel[] = [[0, '0', ''], [2, '2x10', '−14'], [6, '6x10', '−14']];

type PanelDef = {
  name: string; col: number; row: number;
  red: number[]; blue: number[]; green: number[]; black: Pt[];
  domain: number[]; ticks: number[]; major: number[]; labels: YLabel[];
};

const PANELS: PanelDef[] = [
  { name: 'Sz66', col: 0, row: 0, red: SZ66_RED, blue: SZ66_BLUE, green: SZ66_GREEN, black: SZ66_BLACK, domain: SZ66_Y_DOMAIN, ticks: SZ66_Y_TICKS, major: SZ66_Y_MAJOR, labels: SZ66_Y_LABELS },
  { name: 'AKC2006-19', col: 1, row: 0, red: AKC_RED, blue: AKC_BLUE, green: AKC_GREEN, black: AKC_BLACK, domain: AKC_Y_DOMAIN, ticks: AKC_Y_TICKS, major: AKC_Y_MAJOR, labels: AKC_Y_LABELS },
  { name: 'Sz69', col: 0, row: 1, red: SZ69_RED, blue: SZ69_BLUE, green: SZ69_GREEN, black: SZ69_BLACK, domain: SZ69_Y_DOMAIN, ticks: SZ69_Y_TICKS, major: SZ69_Y_MAJOR, labels: SZ69_Y_LABELS },
  { name: 'Sz71', col: 1, row: 1, red: SZ71_RED, blue: SZ71_BLUE, green: SZ71_GREEN, black: SZ71_BLACK, domain: SZ71_Y_DOMAIN, ticks: SZ71_Y_TICKS, major: SZ71_Y_MAJOR, labels: SZ71_Y_LABELS },
  { name: 'Sz72', col: 0, row: 2, red: SZ72_RED, blue: SZ72_BLUE, green: SZ72_GREEN, black: SZ72_BLACK, domain: SZ72_Y_DOMAIN, ticks: SZ72_Y_TICKS, major: SZ72_Y_MAJOR, labels: SZ72_Y_LABELS },
  { name: 'Sz73', col: 1, row: 2, red: SZ73_RED, blue: SZ73_BLUE, green: SZ73_GREEN, black: SZ73_BLACK, domain: SZ73_Y_DOMAIN, ticks: SZ73_Y_TICKS, major: SZ73_Y_MAJOR, labels: SZ73_Y_LABELS },
  { name: 'Sz74', col: 0, row: 3, red: SZ74_RED, blue: SZ74_BLUE, green: SZ74_GREEN, black: SZ74_BLACK, domain: SZ74_Y_DOMAIN, ticks: SZ74_Y_TICKS, major: SZ74_Y_MAJOR, labels: SZ74_Y_LABELS },
  { name: 'Sz83', col: 1, row: 3, red: SZ83_RED, blue: SZ83_BLUE, green: SZ83_GREEN, black: SZ83_BLACK, domain: SZ83_Y_DOMAIN, ticks: SZ83_Y_TICKS, major: SZ83_Y_MAJOR, labels: SZ83_Y_LABELS },
  { name: 'Sz84', col: 0, row: 4, red: SZ84_RED, blue: SZ84_BLUE, green: SZ84_GREEN, black: SZ84_BLACK, domain: SZ84_Y_DOMAIN, ticks: SZ84_Y_TICKS, major: SZ84_Y_MAJOR, labels: SZ84_Y_LABELS },
  { name: 'Sz130', col: 1, row: 4, red: SZ130_RED, blue: SZ130_BLUE, green: SZ130_GREEN, black: SZ130_BLACK, domain: SZ130_Y_DOMAIN, ticks: SZ130_Y_TICKS, major: SZ130_Y_MAJOR, labels: SZ130_Y_LABELS },
];

const FONT = "'Liberation Sans', Arial, Helvetica, sans-serif";
const SERIF = "'DejaVu Serif', 'Liberation Serif', serif";
const AX = { stroke: '#000', strokeWidth: 1.5 };

const near = (arr: number[], v: number) => arr.some((a) => Math.abs(a - v) < 1e-6);
const toPts = (xs: number[], ys: number[]) => ys.map((y, i) => ({ x: xs[i], y }));

function XBottomTick(props: any) {
  const { x, y, payload } = props;
  const v = payload.value;
  const major = near(X_MAJOR, v);
  return (
    <g>
      <line x1={x} y1={y} x2={x} y2={y - (major ? 8 : 4)} stroke="#000" strokeWidth={1} />
      {major ? (
        <text x={x} y={y + 18.5} textAnchor="middle" fontSize={13} fontFamily={FONT} fill="#000">{v}</text>
      ) : null}
    </g>
  );
}

function XTopTick(props: any) {
  const { x, y, payload } = props;
  const major = near(X_MAJOR, payload.value);
  return <line x1={x} y1={y} x2={x} y2={y + (major ? 8 : 4)} stroke="#000" strokeWidth={1} />;
}

function makeLeftTick(major: number[], labels: YLabel[]) {
  return function LeftTick(props: any) {
    const { x, y, payload } = props;
    const v = payload.value;
    const len = near(major, v) ? 8 : 4;
    const lab = labels.find((l) => Math.abs(l[0] - v) < 1e-6);
    const bx = x - 8;
    return (
      <g>
        <line x1={x} y1={y} x2={x + len} y2={y} stroke="#000" strokeWidth={1} />
        {lab ? (
          <text x={bx} y={y} transform={`rotate(-90 ${bx} ${y})`} textAnchor="middle" fontSize={13.5} fontFamily={FONT} fill="#000">
            {lab[1]}
            {lab[2] ? <tspan dy={-5.5} fontSize={10}>{lab[2]}</tspan> : null}
          </text>
        ) : null}
      </g>
    );
  };
}

function makeRightTick(major: number[]) {
  return function RightTick(props: any) {
    const { x, y, payload } = props;
    const len = near(major, payload.value) ? 8 : 4;
    return <line x1={x} y1={y} x2={x - len} y2={y} stroke="#000" strokeWidth={1} />;
  };
}

function Panel({ p }: { p: PanelDef }) {
  const left = p.col === 0 ? 0 : 300;
  const width = p.col === 0 ? 310 : 300;
  // each axis occupies 1px, so the margins are 1px smaller than the plot offsets
  const margin = p.col === 0
    ? { top: 7, right: 17, bottom: 25, left: 50 }
    : { top: 7, right: 12, bottom: 25, left: 43 };
  const top = ROW_TOPS[p.row] - 8;
  const red = toPts(WL_FINE, p.red);
  const blue = toPts(WL_COARSE, p.blue);
  const green = toPts(WL_COARSE, p.green);
  const black = p.black.map(([x, y]) => ({ x, y }));
  const dom = [p.domain[0], p.domain[1]] as [number, number];
  return (
    <div style={{ position: 'absolute', left, top, width, height: 169 }}>
      <LineChart width={width} height={169} margin={margin}>
        <XAxis xAxisId="b" dataKey="x" type="number" domain={[330, 420]} allowDataOverflow ticks={X_TICKS} interval={0}
          tickSize={0} tickMargin={0} height={1} axisLine={AX} tickLine={false} tick={XBottomTick} />
        <XAxis xAxisId="t" orientation="top" dataKey="x" type="number" domain={[330, 420]} allowDataOverflow ticks={X_TICKS} interval={0}
          tickSize={0} tickMargin={0} height={1} axisLine={AX} tickLine={false} tick={XTopTick} />
        <YAxis yAxisId="l" type="number" domain={dom} allowDataOverflow ticks={p.ticks} interval={0}
          tickSize={0} tickMargin={0} width={1} axisLine={AX} tickLine={false} tick={makeLeftTick(p.major, p.labels)} />
        <YAxis yAxisId="r" orientation="right" type="number" domain={dom} allowDataOverflow ticks={p.ticks} interval={0}
          tickSize={0} tickMargin={0} width={1} axisLine={AX} tickLine={false} tick={makeRightTick(p.major)} />
        <Line xAxisId="b" yAxisId="l" data={red} dataKey="y" type="linear" stroke="#ff0000" strokeWidth={1} dot={false} activeDot={false} isAnimationActive={false} />
        <Line xAxisId="b" yAxisId="l" data={blue} dataKey="y" type="linear" stroke="#0000ff" strokeWidth={1} dot={false} activeDot={false} isAnimationActive={false} />
        <Line xAxisId="b" yAxisId="l" data={green} dataKey="y" type="linear" stroke="#00ff00" strokeWidth={1} dot={false} activeDot={false} isAnimationActive={false} />
        <Line xAxisId="b" yAxisId="l" data={black} dataKey="y" type="linear" stroke="#000000" strokeWidth={1.3} dot={false} activeDot={false} isAnimationActive={false} />
      </LineChart>
    </div>
  );
}

export default function App() {
  return (
    <div style={{ position: 'absolute', left: 0, top: 0, width: 600, height: 861, background: '#fff' }}>
      {PANELS.map((p) => <Panel key={p.name} p={p} />)}
      <svg width={600} height={861} style={{ position: 'absolute', left: 0, top: 0, pointerEvents: 'none' }}>
        {PANELS.map((p) => (
          <text key={p.name} x={p.col === 0 ? 65 : 358} y={ROW_TOPS[p.row] + 29} fontSize={13.5} fontFamily={FONT} fill="#000">
            {p.name}
          </text>
        ))}
        <text x={320.5} y={855} textAnchor="middle" fontSize={15} fontFamily={SERIF} fill="#000" textLength={149} lengthAdjust="spacing">
          Wavelength (nm)
        </text>
        <text x={20} y={408} transform="rotate(-90 20 408)" textAnchor="middle" fontSize={15} fontFamily={SERIF} fill="#000" textLength={250} lengthAdjust="spacing">
          Flux (erg s<tspan dy={-6} fontSize={10}>−1</tspan><tspan dy={6} fontSize={15}> cm</tspan><tspan dy={-6} fontSize={10}>−2</tspan><tspan dy={6} fontSize={15}> nm</tspan><tspan dy={-6} fontSize={10}>−1</tspan><tspan dy={6} fontSize={15}>)</tspan>
        </text>
      </svg>
    </div>
  );
}
